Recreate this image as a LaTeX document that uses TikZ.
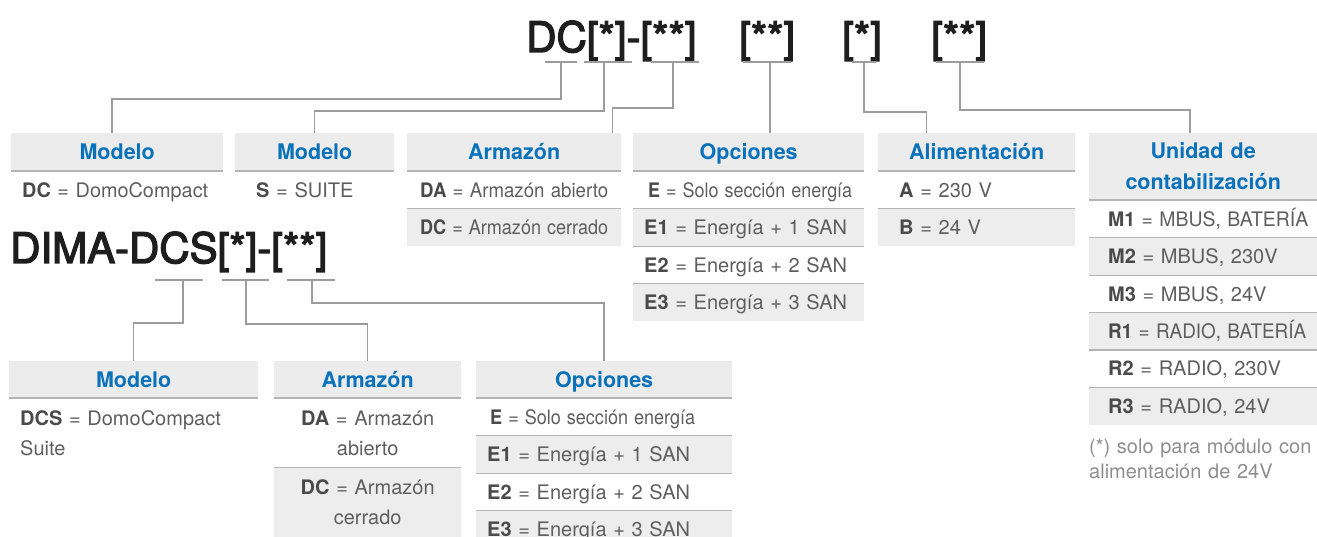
\documentclass[tikz,border=0pt]{standalone}
\usepackage{fontspec}
\setmainfont{TeX Gyre Heros}
\newfontfamily\titlefont[FakeBold=3]{TeX Gyre Heros}
\usepackage{graphicx}
\usetikzlibrary{positioning,calc}
\definecolor{hdrblue}{HTML}{0A72BA}
\definecolor{hdrgray}{HTML}{ECECEC}
\definecolor{rowgray}{HTML}{EDEDED}
\definecolor{rulegray}{HTML}{B4B4B4}
\definecolor{linkgray}{HTML}{9C9C9C}
\definecolor{keygray}{HTML}{4A4A4A}
\definecolor{valgray}{HTML}{5E5E5E}
\definecolor{titleblack}{HTML}{1E1E1E}
\definecolor{notegray}{HTML}{8E8E8E}
\newcommand{\key}[1]{{\bfseries\color{keygray}#1}}
\newcommand{\fitto}[2]{\resizebox{#1}{\height}{#2}}

\begin{document}
\begin{tikzpicture}[
  x=1pt, y=-1pt,
  title/.style={anchor=base west, inner sep=0pt, text=titleblack, font=\titlefont\fontsize{42}{46}\selectfont},
  hdr/.style={rectangle, fill=hdrgray, anchor=north west, minimum width=#1, minimum height=38,
    inner sep=0pt, align=center, text=hdrblue, font=\fontsize{21.5}{31}\selectfont\bfseries,
    text height=15.5pt, text depth=0pt},
  cell/.style={rectangle, minimum height=37, inner ysep=0pt, align=left, text=valgray,
    font=\fontsize{20}{30}\selectfont, text height=14.5pt, text depth=0pt},
  grayrow/.style={fill=rowgray},
  tall/.style={minimum height=69, text depth=30pt},
  colMa/.style={cell, text width=190pt, inner xsep=11pt},
  colMb/.style={cell, text width=117pt, inner xsep=21pt},
  colAr/.style={cell, text width=188pt, inner xsep=13pt},
  colOp/.style={cell, text width=209pt, inner xsep=11pt},
  colAl/.style={cell, text width=155pt, inner xsep=21pt},
  colUn/.style={cell, text width=190pt, inner xsep=19pt},
  colMc/.style={cell, tall, text width=227pt, inner xsep=11pt},
  colAs/.style={cell, tall, text width=167pt, inner xsep=10pt, align=center},
  colOq/.style={cell, text width=234pt, inner xsep=11pt},
  hrule/.style={draw=rulegray, line width=2pt},
  rrule/.style={draw=rulegray, line width=1.3pt},
  uline/.style={draw=linkgray, line width=1.5pt},
  link/.style={draw=linkgray, line width=1.5pt},
  note/.style={anchor=north west, inner sep=0pt, align=left, text width=228pt, text=notegray,
    font=\fontsize{20}{25}\selectfont, text height=15pt},
  node distance=0pt
]
  \useasboundingbox (0,0) rectangle (1317,537);
  \clip (0,0) rectangle (1317,537);

  % codes
  \node[title] (t1) at (526,52) {DC[*]-[**]};
  \node[title] (t2) at (739,52) {[**]};
  \node[title] (t3) at (842,52) {[*]};
  \node[title] (t4) at (931,52) {[**]};
  \node[title] (t5) at (10,263) {DIMA-DCS[*]-[**]};

  \foreach \n/\a/\b/\d/\y in {u1/545/577/561/62, u2/584/632/604/62, u3/651/699/673/62,
      u4/743/791/770/62, u5/852/876/864/62, u6/936/984/960/62,
      v1/155/203/183/280, v2/222/269/246/280, v3/287/335/312/280}{
    \draw[uline] (\a,\y) -- (\b,\y);
    \coordinate (\n) at (\d,\y);
  }

  % upper tables
  \node[hdr=212] (hMa) at (11,133) {Modelo};
  \node[colMa,below=of hMa] (rMa1) {\fitto{186pt}{\key{DC} = DomoCompact}};

  \node[hdr=159] (hMb) at (235,133) {Modelo};
  \node[colMb,below=of hMb] (rMb1) {\key{S} = SUITE};

  \node[hdr=214] (hAr) at (407,133) {Armazón};
  \node[colAr,below=of hAr] (rAr1) {\fitto{188pt}{\key{DA} = Armazón abierto}};
  \node[colAr,grayrow,below=of rAr1] (rAr2) {\fitto{188pt}{\key{DC} = Armazón cerrado}};

  \node[hdr=231] (hOp) at (633,133) {Opciones};
  \node[colOp,below=of hOp] (rOp1) {\hspace{4pt}\fitto{204pt}{\key{E} = Solo sección energía}};
  \node[colOp,grayrow,below=of rOp1] (rOp2) {\key{E1} = Energía + 1 SAN};
  \node[colOp,below=of rOp2] (rOp3) {\key{E2} = Energía + 2 SAN};
  \node[colOp,grayrow,below=of rOp3] (rOp4) {\key{E3} = Energía + 3 SAN};

  \node[hdr=197] (hAl) at (878,133) {Alimentación};
  \node[colAl,below=of hAl] (rAl1) {\key{A} = 230 V};
  \node[colAl,grayrow,below=of rAl1] (rAl2) {\key{B} = 24 V};

  \node[hdr=228,minimum height=67,text width=228pt,text depth=31pt] (hUn) at (1089,133) {Unidad de\\contabilización};
  \node[colUn,below=of hUn] (rUn1) {\fitto{200pt}{\key{M1} = MBUS, BATERÍA}};
  \node[colUn,grayrow,below=of rUn1] (rUn2) {\key{M2} = MBUS, 230V};
  \node[colUn,below=of rUn2] (rUn3) {\key{M3} = MBUS, 24V};
  \node[colUn,grayrow,below=of rUn3] (rUn4) {\fitto{198pt}{\key{R1} = RADIO, BATERÍA}};
  \node[colUn,below=of rUn4] (rUn5) {\key{R2} = RADIO, 230V};
  \node[colUn,grayrow,below=of rUn5] (rUn6) {\key{R3} = RADIO, 24V};
  \node[note] (note) at (1089,438) {(*) solo para módulo con\\alimentación de 24V};

  % lower tables
  \node[hdr=249,minimum height=37] (hMc) at (9,361) {Modelo};
  \node[colMc,below=of hMc] (rMc1) {\key{DCS} = DomoCompact\\Suite};

  \node[hdr=187,minimum height=37] (hAs) at (274,361) {Armazón};
  \node[colAs,below=of hAs] (rAs1) {\key{DA} = Armazón\\abierto};
  \node[colAs,grayrow,below=of rAs1] (rAs2) {\key{DC} = Armazón\\cerrado};

  \node[hdr=256,minimum height=37] (hOq) at (476,361) {Opciones};
  \node[colOq,below=of hOq] (rOq1) {\hspace{3pt}\fitto{205pt}{\key{E} = Solo sección energía}};
  \node[colOq,grayrow,below=of rOq1] (rOq2) {\key{E1} = Energía + 1 SAN};
  \node[colOq,below=of rOq2] (rOq3) {\key{E2} = Energía + 2 SAN};
  \node[colOq,grayrow,below=of rOq3] (rOq4) {\key{E3} = Energía + 3 SAN};

  % rules
  \foreach \h in {hMa,hMb,hAr,hOp,hAl,hUn,hMc,hAs,hOq}
    \draw[hrule] (\h.south west) -- (\h.south east);
  \foreach \r in {rAr2,rOp2,rOp3,rOp4,rAl2,rUn2,rUn3,rUn4,rUn5,rUn6,rAs2,rOq2,rOq3,rOq4}
    \draw[rrule] (\r.north west) -- (\r.north east);

  % connectors
  \draw[link] (u1) -- ++(0,37) -| ($(hMa.north)+(-5,0)$);
  \draw[link] (u2) -- ++(0,49) -| (hMb.north);
  \draw[link] (u3) -- ++(0,46) -| ($(hAr.north east)+(-9,0)$);
  \draw[link] (u4) -- (u4 |- hOp.north);
  \draw[link] (u5) -- ++(0,50) -| ($(hAl.north)+(-50,0)$);
  \draw[link] (u6) -- ++(0,48) -| ($(hUn.north)+(-13,0)$);
  \draw[link] (v1) -- ++(0,43) -| (hMc.north);
  \draw[link] (v2) -- ++(0,44) -| (hAs.north);
  \draw[link] (v3) -- ++(0,23) -| (hOq.north);
\end{tikzpicture}
\end{document}
